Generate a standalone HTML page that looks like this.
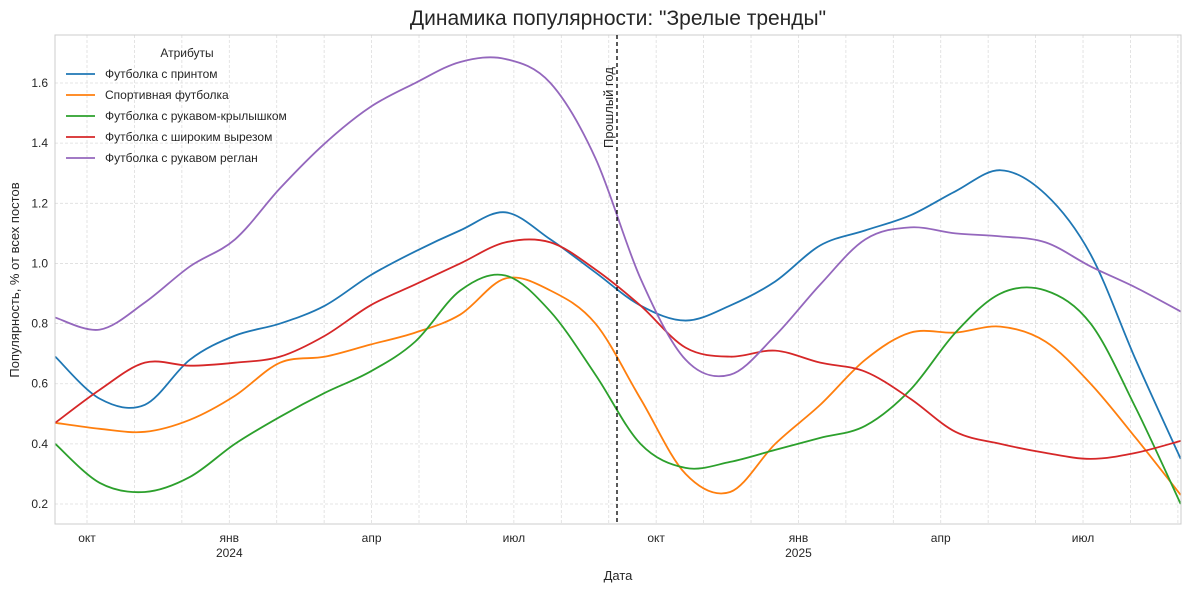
<!DOCTYPE html>
<html><head><meta charset="utf-8"><style>
body{margin:0;background:#fff;font-family:"Liberation Sans","DejaVu Sans",sans-serif;}
svg text{font-family:"Liberation Sans","DejaVu Sans",sans-serif;fill:#262626;}
</style></head><body>
<svg id="chart" width="1189" height="590" xmlns="http://www.w3.org/2000/svg">
<text x="618" y="25" font-size="21" text-anchor="middle">Динамика популярности: "Зрелые тренды"</text>
<g id="grid"></g>
<g id="series"></g>
<rect x="55" y="35" width="1126" height="489" fill="none" stroke="#ccc" stroke-width="1"/>
<line x1="617" y1="35" x2="617" y2="524" stroke="#000" stroke-width="1.3" stroke-dasharray="4,3"/>
<text transform="translate(613,148) rotate(-90)" font-size="13">Прошлый год</text>
<g id="axes"></g>
<text x="618" y="580" font-size="13" text-anchor="middle">Дата</text>
<text transform="translate(19,280) rotate(-90)" font-size="13" text-anchor="middle">Популярность, % от всех постов</text>
<g id="legend"></g>
</svg>
<script>
// months since 2023-09-01
const sampleMonths = [0.33,1.27,2.22,3.17,4.12,5.07,6.02,6.97,7.92,8.87,9.82,10.77,11.72,12.67,13.62,14.56,15.51,16.46,17.41,18.36,19.31,20.26,21.21,22.16,23.11,24.06];
const seriesNames = ["Футболка с принтом","Спортивная футболка","Футболка с рукавом-крылышком","Футболка с широким вырезом","Футболка с рукавом реглан"];
const seriesPrint = [0.69,0.55,0.53,0.68,0.76,0.80,0.86,0.96,1.04,1.11,1.17,1.08,0.97,0.86,0.81,0.86,0.94,1.06,1.11,1.16,1.24,1.31,1.23,1.03,0.68,0.35];
const seriesSport = [0.47,0.45,0.44,0.48,0.56,0.67,0.69,0.73,0.77,0.83,0.95,0.91,0.80,0.55,0.30,0.24,0.40,0.53,0.68,0.77,0.77,0.79,0.74,0.60,0.42,0.23];
const seriesWing = [0.40,0.27,0.24,0.29,0.40,0.49,0.57,0.64,0.74,0.91,0.96,0.84,0.63,0.40,0.32,0.34,0.38,0.42,0.46,0.58,0.77,0.90,0.91,0.80,0.52,0.20];
const seriesWide = [0.47,0.58,0.67,0.66,0.67,0.69,0.76,0.86,0.93,1.00,1.07,1.07,0.98,0.86,0.72,0.69,0.71,0.67,0.64,0.55,0.44,0.40,0.37,0.35,0.37,0.41];
const seriesRaglan = [0.82,0.78,0.87,0.99,1.08,1.25,1.40,1.52,1.60,1.67,1.68,1.60,1.35,0.95,0.68,0.63,0.76,0.93,1.08,1.12,1.10,1.09,1.07,0.99,0.92,0.84];
const yTicks = [0.2,0.4,0.6,0.8,1.0,1.2,1.4,1.6];
const xTickMonths = [1,4,7,10,13,16,19,22];
const xTickLabels = ["окт","янв\n2024","апр","июл","окт","янв\n2025","апр","июл"];
const colors = ["#1f77b4","#ff7f0e","#2ca02c","#d62728","#9467bd"];

const NS="http://www.w3.org/2000/svg";
const x = m => 87 + (m-1)*47.43;
const y = v => 504 - (v-0.2)*300.7;
function mk(tag, attrs, parent){const e=document.createElementNS(NS,tag);for(const k in attrs)e.setAttribute(k,attrs[k]);parent.appendChild(e);return e;}
const grid=document.getElementById('grid'), axes=document.getElementById('axes'), ser=document.getElementById('series'), leg=document.getElementById('legend');
for(let m=1;m<=24;m++){
  const l=mk('line',{x1:x(m),x2:x(m),y1:35,y2:524,stroke:'#ddd','stroke-width':0.8,'stroke-dasharray':'3,2'},grid);
  
  
}
yTicks.forEach(v=>{
  const l=mk('line',{x1:55,x2:1181,y1:y(v),y2:y(v),stroke:'#ddd','stroke-width':0.8,'stroke-dasharray':'3,2'},grid);
  
  
  const t=mk('text',{x:48,y:y(v)+4,'font-size':12,'text-anchor':'end'},axes);
  t.textContent=v.toFixed(1);
  
  
});
xTickMonths.forEach((m,i)=>{
  const parts=xTickLabels[i].split("\n");
  parts.forEach((p,j)=>{
    const t=mk('text',{x:x(m),y:542+j*15,'font-size':12,'text-anchor':'middle'},axes);
    t.textContent=p;
    
    
  });
});
function smooth(pts){
  let d=`M${pts[0][0]},${pts[0][1]}`;
  for(let i=0;i<pts.length-1;i++){
    const p0=pts[Math.max(i-1,0)],p1=pts[i],p2=pts[i+1],p3=pts[Math.min(i+2,pts.length-1)];
    const c1=[p1[0]+(p2[0]-p0[0])/6,p1[1]+(p2[1]-p0[1])/6];
    const c2=[p2[0]-(p3[0]-p1[0])/6,p2[1]-(p3[1]-p1[1])/6];
    d+=` C${c1[0]},${c1[1]} ${c2[0]},${c2[1]} ${p2[0]},${p2[1]}`;
  }
  return d;
}
const all=[seriesPrint,seriesSport,seriesWing,seriesWide,seriesRaglan];
const keys=["print","sport","wing","wide","raglan"];
all.forEach((s,i)=>{
  const pts=s.map((v,j)=>[x(sampleMonths[j]),y(v)]);
  const p=mk('path',{d:smooth(pts),fill:'none',stroke:colors[i],'stroke-width':1.8},ser);
  
  
});
const lt=mk('text',{x:187,y:57,'font-size':12,'text-anchor':'middle'},leg);
lt.textContent="Атрибуты";


seriesNames.forEach((n,i)=>{
  const yy=74+i*21;
  const l=mk('line',{x1:66,x2:95,y1:yy,y2:yy,stroke:colors[i],'stroke-width':1.8},leg);
  
  
  const t=mk('text',{x:105,y:yy+4,'font-size':12},leg);
  t.textContent=n;
  
  
});
</script>
</body></html>
